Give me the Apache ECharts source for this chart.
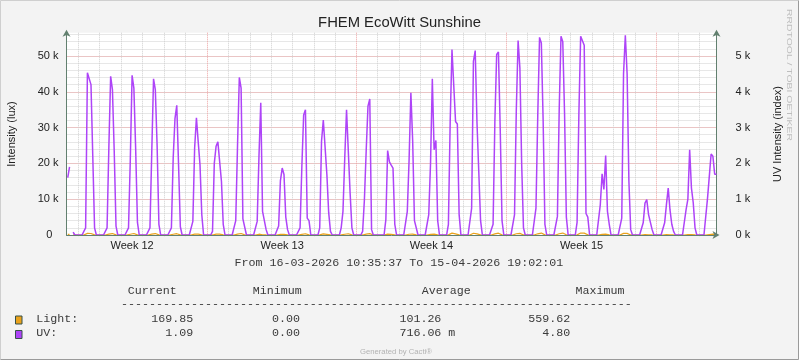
<!DOCTYPE html>
<html><head><meta charset="utf-8">
<script src="https://cdn.jsdelivr.net/npm/echarts@6/dist/echarts.min.js"></script>
<style>html,body{margin:0;padding:0;background:#f3f3f3}#c{width:799px;height:360px}</style>
</head><body><div id="c"></div>
<script>
// ---------- data (x = hours since 2026-03-16 00:00 UTC) ----------
const startUTC = 9.594;     // 16-03-2026 10:35:37 CET
const endUTC = 737.034;     // 15-04-2026 19:02:01 CEST
const slotHoursUTC = [1,3,5,7,9,11,13,15,17,19,21,23];   // 2-hour consolidation points of each day

// UV intensity (right axis units), one row per day
const uvWeek12 = [
  [null,null,null,null,null,1600,1900,null,80,0,0,0],
  [0,0,0,200,4530,4500,4200,2200,200,0,0,0],
  [0,0,0,200,2450,4430,4060,2340,250,0,0,0],
  [0,0,0,200,2100,4460,4100,2400,350,0,0,0],
  [0,0,0,200,2300,4360,4060,2500,300,0,0,0],
  [0,0,0,200,2150,3250,3620,1960,230,0,0,0],
  [0,0,0,380,2430,3270,2600,1960,570,0,0,0]
];
const uvWeek13 = [
  [0,0,100,2000,2480,2600,2550,1500,300,0,0,0],
  [0,0,0,400,2500,4400,4100,450,400,0,0,0],
  [0,0,0,380,2200,3690,660,650,150,0,0,0],
  [0,0,0,250,1520,1870,1690,500,150,0,0,0],
  [0,0,0,200,1920,3350,3500,470,400,0,0,0],
  [0,0,200,2620,3210,3210,1690,630,100,0,0,0],
  [0,0,200,660,2150,3500,3500,1170,200,0,0,0]
];
const uvWeek14 = [
  [0,0,100,990,2360,3600,3800,150,0,0,0,0],
  [0,0,0,430,2360,2040,1950,1870,300,0,0,0],
  [0,0,0,660,2100,3970,2630,400,380,0,0,0],
  [0,0,0,570,2000,4360,2380,2640,400,0,0,0],
  [0,0,300,3170,5180,5180,3170,3100,570,0,0,0],
  [0,0,0,750,4850,5150,3130,3130,400,0,0,0],
  [0,0,0,300,3170,5040,5110,2940,400,0,0,0]
];
const uvWeek15 = [
  [0,0,0,570,3500,5430,4660,1980,200,0,0,0],
  [0,0,0,750,3340,5520,5360,3220,300,0,0,0],
  [0,0,0,520,3500,5550,5400,3380,500,0,0,0],
  [0,0,350,3360,5550,5550,5300,600,500,0,0,0],
  [0,0,0,850,1710,1270,2220,660,300,0,0,0],
  [0,0,0,470,4500,5580,4500,1500,150,0,0,0],
  [0,0,0,340,890,990,570,520,150,0,0,0]
];
const uvWeek16 = [
  [0,0,0,340,850,1310,700,300,100,0,0,0],
  [0,0,0,710,1000,2380,1310,900,200,0,0,0],
  [0,0,0,1030,1080,2260,2200,1700,1700,null,null,null]
];

// Light (lux, left axis)
const lightWeek12 = [
  [null,null,null,null,null,160,190,null,10,0,0,0],
  [0,0,0,20,450,450,420,220,20,0,0,0],
  [0,0,0,20,245,440,405,235,25,0,0,0],
  [0,0,0,20,210,445,410,240,35,0,0,0],
  [0,0,0,20,230,435,405,250,30,0,0,0],
  [0,0,0,20,215,325,360,195,25,0,0,0],
  [0,0,0,40,245,325,260,195,55,0,0,0]
];
const lightWeek13 = [
  [0,0,10,200,250,260,255,150,30,0,0,0],
  [0,0,0,40,250,440,410,45,40,0,0,0],
  [0,0,0,40,220,370,65,65,15,0,0,0],
  [0,0,0,25,150,185,170,50,15,0,0,0],
  [0,0,0,20,190,335,350,45,40,0,0,0],
  [0,0,20,260,320,320,170,65,10,0,0,0],
  [0,0,20,65,215,350,350,115,20,0,0,0]
];
const lightWeek14 = [
  [0,0,10,100,235,360,380,15,0,0,0,0],
  [0,0,0,45,235,205,195,185,30,0,0,0],
  [0,0,0,65,210,395,265,40,40,0,0,0],
  [0,0,0,55,200,435,240,265,40,0,0,0],
  [0,0,30,315,520,520,315,310,55,0,0,0],
  [0,0,0,75,485,515,315,315,40,0,0,0],
  [0,0,0,30,315,505,510,295,40,0,0,0]
];
const lightWeek15 = [
  [0,0,0,55,350,545,465,200,20,0,0,0],
  [0,0,0,75,335,550,535,320,30,0,0,0],
  [0,0,0,50,350,555,540,340,50,0,0,0],
  [0,0,35,335,555,555,530,60,50,0,0,0],
  [0,0,0,85,170,125,220,65,30,0,0,0],
  [0,0,0,45,450,559.62,450,150,15,0,0,0],
  [0,0,0,35,90,100,55,50,15,0,0,0]
];
const lightWeek16 = [
  [0,0,0,35,85,130,70,30,10,0,0,0],
  [0,0,0,70,100,240,130,90,20,0,0,0],
  [0,0,0,105,110,225,220,170,169.85,null,null,null]
];

// grid lines at local midnights (UTC hours), week boundaries, week labels
const dayLinesUTC = [23,47,71,95,119,143,191,215,239,263,287,311,358,382,406,430,454,478,526,550,574,598,622,646,694,718];
const weekLinesUTC = [167,334,502,670];
const weekLabelUTC = [83,251,418,586];
const weekLabels = ['Week 12','Week 13','Week 14','Week 15'];

// legend text
const periodText = 'From 16-03-2026 10:35:37 To 15-04-2026 19:02:01';
const legendHeader = ['Current','Minimum','Average','Maximum'];
const lightStats = ['169.85','0.00','101.26','559.62'];
const uvStats = ['1.09','0.00','716.06 m','4.80'];

// ---------- build ----------
function toSeries(weeks){
  const out = []; let d = 0;
  weeks.forEach(w => w.forEach(day => { day.forEach((v,k) => out.push([24*d + slotHoursUTC[k], v])); d++; }));
  return out;
}
const uvData = toSeries([uvWeek12,uvWeek13,uvWeek14,uvWeek15,uvWeek16]);
const lightData = toSeries([lightWeek12,lightWeek13,lightWeek14,lightWeek15,lightWeek16]);

const AXIS = '#62806f';
const TXT = '#222';
const UV_COLOR = '#AE44F8';
const LIGHT_COLOR = '#EAA21C';
const SANS = '"Liberation Sans", Arial, sans-serif';
const MONO = '"Liberation Mono", "DejaVu Sans Mono", monospace';

function vline(color){
  return function(params, api){
    const cs = params.coordSys;
    const x = Math.floor(api.coord([api.value(0), 0])[0]) + 0.5;
    return {type:'line', shape:{x1:x, y1:cs.y, x2:x, y2:cs.y + cs.height + 2},
      style:{stroke:color, lineWidth:1, lineDash:[1,1]}};
  };
}
function txt(x, y, text, align, extra){
  return Object.assign({type:'text', x:x, y:y, silent:true,
    style:{text:text, font:'11.67px ' + MONO, fill:'#3a3a3a', align:align || 'left', verticalAlign:'middle'}}, extra || {});
}

const chart = echarts.init(document.getElementById('c'), null, {renderer:'canvas', width:799, height:360});
chart.setOption({
  animation:false,
  backgroundColor:'#f3f3f3',
  grid:{left:66.5, right:82.5, top:32.7, bottom:125, show:true, backgroundColor:'#ffffff', borderWidth:0},
  xAxis:{
    type:'value', min:startUTC, max:endUTC, z:3,
    axisLine:{show:true, lineStyle:{color:AXIS, width:1}, symbol:['none','arrow'], symbolSize:[6,7], symbolOffset:[0,3]},
    axisTick:{show:false},
    splitLine:{show:false},
    axisLabel:{customValues:weekLabelUTC, margin:5, color:TXT, fontFamily:SANS, fontSize:11,
      formatter:(v)=>{ const i = weekLabelUTC.indexOf(Math.round(v)); return i >= 0 ? weekLabels[i] : ''; }}
  },
  yAxis:[
    { type:'value', min:0, max:56500, interval:2000, position:'left',
      axisLine:{show:false}, axisTick:{show:false}, axisLabel:{show:false},
      splitLine:{show:true, showMinLine:false, showMaxLine:false, lineStyle:{color:'#cfcfcf', width:1, type:[1,1]}} },
    { type:'value', min:0, max:56500, interval:10000, position:'left',
      axisLine:{show:true, lineStyle:{color:AXIS, width:1}, symbol:['none','arrow'], symbolSize:[6,7], symbolOffset:[0,3]},
      axisTick:{show:false},
      axisLabel:{margin:8, color:TXT, fontFamily:SANS, fontSize:11,
        formatter:(v)=> (v % 10000) ? '' : (v === 0 ? '0  ' : (v/1000) + ' k')},
      splitLine:{show:true, showMinLine:false, showMaxLine:false, lineStyle:{color:'#eda3a3', width:1, type:[1,1]}} },
    { type:'value', min:0, max:5650, interval:1000, position:'right',
      axisLine:{show:true, lineStyle:{color:AXIS, width:1}, symbol:['none','arrow'], symbolSize:[6,7], symbolOffset:[0,3]},
      axisTick:{show:false},
      axisLabel:{margin:19, color:TXT, fontFamily:SANS, fontSize:11,
        formatter:(v)=> (v % 1000) ? '' : (v/1000) + ' k'},
      splitLine:{show:false} }
  ],
  series:[
    { type:'custom', xAxisIndex:0, yAxisIndex:1, z:1, silent:true, clip:false,
      data: dayLinesUTC.map(v=>[v,0]), renderItem: vline('#cfcfcf') },
    { type:'custom', xAxisIndex:0, yAxisIndex:1, z:1, silent:true, clip:false,
      data: weekLinesUTC.map(v=>[v,0]), renderItem: vline('#eda3a3') },
    { name:'Light', type:'line', xAxisIndex:0, yAxisIndex:1, data:lightData, showSymbol:false, z:2,
      lineStyle:{color:LIGHT_COLOR, width:1.2}, itemStyle:{color:LIGHT_COLOR}, silent:true },
    { name:'UV', type:'line', xAxisIndex:0, yAxisIndex:2, data:uvData, showSymbol:false, z:2,
      lineStyle:{color:UV_COLOR, width:1.5}, itemStyle:{color:UV_COLOR}, silent:true }
  ],
  graphic:[
    {type:'polyline', silent:true, shape:{points:[[0.5,359.5],[0.5,0.5],[798.5,0.5]]}, style:{stroke:'#cfcfcf', fill:null, lineWidth:1}},
    {type:'polyline', silent:true, shape:{points:[[0.5,359.5],[798.5,359.5],[798.5,0.5]]}, style:{stroke:'#9a9a9a', fill:null, lineWidth:1}},
    {type:'text', x:399.5, y:22.5, silent:true, style:{text:'FHEM EcoWitt Sunshine', font:'14.8px ' + SANS, fill:TXT, align:'center', verticalAlign:'middle'}},
    {type:'text', x:11.5, y:134, rotation:Math.PI/2, silent:true, style:{text:'Intensity (lux)', font:'11px ' + SANS, fill:TXT, align:'center', verticalAlign:'middle'}},
    {type:'text', x:778, y:134, rotation:Math.PI/2, silent:true, style:{text:'UV Intensity (index)', font:'11px ' + SANS, fill:TXT, align:'center', verticalAlign:'middle'}},
    {type:'text', x:789.5, y:9, rotation:-Math.PI/2, scaleX:1.3, silent:true, style:{text:'RRDTOOL / TOBI OETIKER', font:'8px ' + SANS, fill:'#bdbdbd', align:'left', verticalAlign:'middle'}},
    txt(398.8, 262.5, periodText, 'center'),
    txt(127.7, 290.5, legendHeader[0]),
    txt(252.7, 290.5, legendHeader[1]),
    txt(421.7, 290.5, legendHeader[2]),
    txt(575.5, 290.5, legendHeader[3]),
    txt(121, 303.6, '-'.repeat(73)),
    {type:'rect', silent:true, shape:{x:15.5, y:316, width:6.5, height:8}, style:{fill:LIGHT_COLOR, stroke:'#37514a', lineWidth:1}},
    {type:'rect', silent:true, shape:{x:15.5, y:330.5, width:6.5, height:8}, style:{fill:UV_COLOR, stroke:'#37514a', lineWidth:1}},
    txt(36.2, 319, 'Light:'),
    txt(36.2, 333, 'UV:'),
    txt(193.3, 319, lightStats[0], 'right'),
    txt(300, 319, lightStats[1], 'right'),
    txt(399.4, 319, lightStats[2], 'left'),
    txt(570.2, 319, lightStats[3], 'right'),
    txt(193.3, 333, uvStats[0], 'right'),
    txt(300, 333, uvStats[1], 'right'),
    txt(399.4, 333, uvStats[2], 'left'),
    txt(570.2, 333, uvStats[3], 'right'),
    {type:'text', x:360, y:351.5, silent:true, style:{text:'Generated by Cacti®', font:'7.7px ' + SANS, fill:'#b3b3b3', align:'left', verticalAlign:'middle'}}
  ]
});
</script>
</body></html>
